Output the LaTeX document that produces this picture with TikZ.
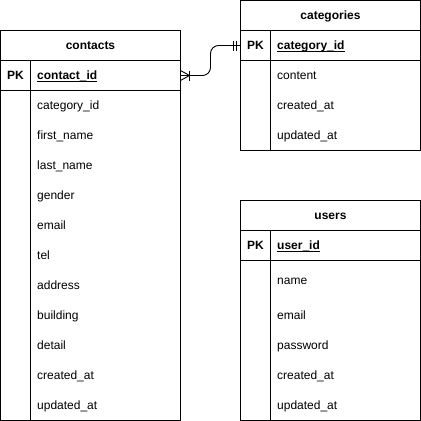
\documentclass[tikz,border=0pt]{standalone}
\usepackage{fontspec}
\setmainfont{Liberation Sans}
\usetikzlibrary{calc}
\def\keyname#1{\setbox0\hbox{#1}\rlap{\rule[-2.2pt]{\wd0}{0.9pt}}\box0}

\tikzset{
	tbl/.style={line width=1pt},
	head/.style={anchor=base, inner sep=0pt, font=\fontsize{12}{14}\selectfont\bfseries},
	field/.style={anchor=base west, inner sep=0pt, font=\fontsize{12}{14}\selectfont},
	keyfield/.style={field, font=\fontsize{12}{14}\selectfont\bfseries},
	erline/.style={line width=0.9pt},
}

\begin{document}
\begin{tikzpicture}[x=1pt, y=-1pt]
			%%%%% START %%%%%
			\useasboundingbox (0,0) rectangle (421,421);
			
			%% contacts
			\draw[tbl] (0.5, 30.5) rectangle (180.5, 420.5);
			\draw[tbl] (0.5, 60.5) -- (180.5, 60.5);
			\draw[tbl] (0.5, 90.5) -- (180.5, 90.5);
			\draw[tbl] (30.5, 60.5) -- (30.5, 420.5);
			\node[head] (contacts) at (90.5, 49.5) {contacts};
			\node[head] (contactsPK) at (15.5, 79.5) {PK};
			\node[keyfield] (contactsKey) at (37, 79.5) {\keyname{contact\_id}};
			\foreach \f [count=\i] in {category\_id, first\_name, last\_name, gender, email, tel, address, building, detail, created\_at, updated\_at}
				\node[field] (contacts\i) at (37, 79.5+30*\i) {\f};
			
			%% categories
			\draw[tbl] (240.5, 0.5) rectangle (420.5, 150.5);
			\draw[tbl] (240.5, 30.5) -- (420.5, 30.5);
			\draw[tbl] (240.5, 60.5) -- (420.5, 60.5);
			\draw[tbl] (270.5, 30.5) -- (270.5, 150.5);
			\node[head] (categories) at (330.5, 19.5) {categories};
			\node[head] (categoriesPK) at (255.5, 49.5) {PK};
			\node[keyfield] (categoriesKey) at (277, 49.5) {\keyname{category\_id}};
			\foreach \f [count=\i] in {content, created\_at, updated\_at}
				\node[field] (categories\i) at (277, 49.5+30*\i) {\f};
			
			%% users
			\draw[tbl] (240.5, 200.5) rectangle (420.5, 420.5);
			\draw[tbl] (240.5, 230.5) -- (420.5, 230.5);
			\draw[tbl] (240.5, 260.5) -- (420.5, 260.5);
			\draw[tbl] (270.5, 230.5) -- (270.5, 420.5);
			\node[head] (users) at (330.5, 219.5) {users};
			\node[head] (usersPK) at (255.5, 249.5) {PK};
			\node[keyfield] (usersKey) at (277, 249.5) {\keyname{user\_id}};
			\foreach \f/\y [count=\i] in {name/284.5, email/319.5, password/349.5, created\_at/379.5, updated\_at/409.5}
				\node[field] (users\i) at (277, \y) {\f};
			
			%% relation contacts -> categories
			\coordinate (contactsEnd) at (180.5, 75.5);
			\coordinate (categoriesEnd) at (240.5, 45.5);
			\draw[erline, rounded corners=8pt] (contactsEnd) -- ++(30, 0) |- (categoriesEnd);
			\draw[erline] ([yshift=5pt]contactsEnd) -- ([xshift=9pt]contactsEnd) -- ([yshift=-5pt]contactsEnd);
			\draw[erline] ([shift={(9pt,5pt)}]contactsEnd) -- ([shift={(9pt,-5pt)}]contactsEnd);
			\draw[erline] ([shift={(-7pt,5pt)}]categoriesEnd) -- ([shift={(-7pt,-5pt)}]categoriesEnd);
			\draw[erline] ([shift={(-4pt,5pt)}]categoriesEnd) -- ([shift={(-4pt,-5pt)}]categoriesEnd);
			
			%%%%% END %%%%%
\end{tikzpicture}
\end{document}
